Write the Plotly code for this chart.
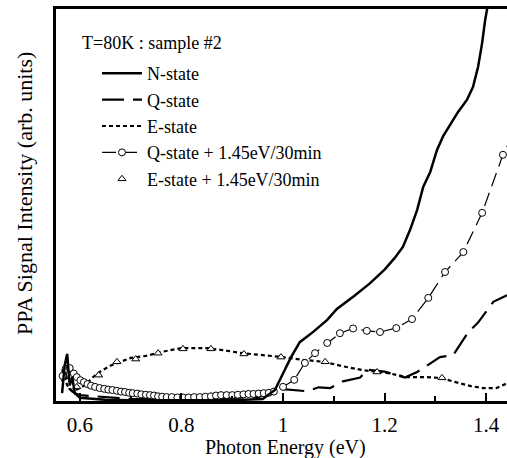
import plotly.graph_objects as go

# ---------------- data ----------------
n_x = [0.565, 0.57, 0.575, 0.58, 0.585, 0.59, 0.60, 0.65, 0.70, 0.80, 0.90, 0.96, 0.984, 1.0, 1.015, 1.033,
       1.06, 1.087, 1.106, 1.14, 1.171, 1.20, 1.22, 1.236, 1.25, 1.264, 1.276, 1.29, 1.303, 1.315, 1.33,
       1.345, 1.362, 1.374, 1.384, 1.392, 1.398, 1.402, 1.41]
n_y = [2, 9, 12, 4, 6, 2, 0.8, 0.3, 0.2, 0.2, 0.2, 0.5, 2.8, 7, 11, 15,
       17.7, 20.7, 23.5, 26.8, 30, 33.5, 36.5, 39.3, 43.6, 48.7, 54.6, 58.5, 64, 67.5, 70.5,
       73.8, 76.8, 80.1, 85.2, 91.3, 97.2, 99.7, 106]

q_x = [0.565, 0.57, 0.58, 0.59, 0.60, 0.65, 0.70, 0.75, 0.80, 0.85, 0.90, 0.95, 0.98, 1.0, 1.02, 1.047,
       1.07, 1.093, 1.118, 1.152, 1.166, 1.20, 1.24, 1.264, 1.309, 1.335, 1.365, 1.384, 1.414, 1.433, 1.441]
q_y = [5, 8, 3, 2, 1.5, 1, 0.5, 0.5, 0.8, 0.8, 0.8, 1, 2, 3, 2.8, 2.5,
       3.5, 3.3, 5, 6, 8, 7.5, 6, 7.4, 11.2, 11.7, 17.6, 20, 25.3, 26.5, 27]

e_x = [0.565, 0.575, 0.585, 0.595, 0.61, 0.625, 0.64, 0.66, 0.68, 0.70, 0.73, 0.76, 0.80, 0.85, 0.88,
       0.92, 0.96, 1.0, 1.04, 1.08, 1.12, 1.16, 1.20, 1.244, 1.28, 1.31, 1.34, 1.37, 1.394, 1.42, 1.441]
e_y = [8, 4, 2.5, 3, 4, 6, 7.5, 9, 10, 11, 11.5, 12.5, 13.5, 13.5, 13,
       12.2, 11.7, 11.2, 10.5, 10, 8.8, 7.8, 7.3, 6.1, 6.1, 5.9, 4.8, 3.8, 3.3, 3.3, 4.5]

qi_x = [0.566, 0.572, 0.580, 0.588, 0.594, 0.601, 0.608, 0.615, 0.622, 0.630, 0.639, 0.648, 0.656, 0.664,
        0.673, 0.681, 0.689, 0.697, 0.704, 0.713, 0.721, 0.730, 0.738, 0.746, 0.754, 0.762, 0.771, 0.781,
        0.792, 0.803, 0.814, 0.825, 0.836, 0.847, 0.858, 0.868, 0.878, 0.889, 0.900, 0.911, 0.922, 0.932,
        0.942, 0.952, 0.962, 0.972, 0.982, 1.000, 1.022, 1.043, 1.063, 1.087, 1.112, 1.138, 1.165, 1.191,
        1.223, 1.254, 1.286, 1.319, 1.355, 1.392, 1.433, 1.46]
qi_y = [6.4, 8.2, 8.4, 7.0, 6.1, 5.3, 4.8, 4.3, 3.9, 3.6, 3.3, 3.1, 2.9, 2.8,
        2.6, 2.4, 2.3, 2.1, 2.0, 1.9, 1.7, 1.6, 1.5, 1.4, 1.2, 1.1, 1.0, 1.0,
        0.9, 0.9, 0.9, 1.0, 1.0, 1.1, 1.2, 1.4, 1.5, 1.5, 1.5, 1.6, 1.7, 1.8,
        1.8, 1.9, 2.0, 2.1, 2.4, 3.6, 5.4, 9.7, 12.2, 14.8, 17.3, 18.5, 17.9, 17.6,
        18.6, 20.9, 26.3, 32.9, 38.0, 48.0, 62.8, 70]

ei_x = [0.594, 0.637, 0.673, 0.710, 0.754, 0.803, 0.858, 0.923, 0.996, 1.083, 1.185, 1.313]
ei_y = [3.6, 6.6, 10, 10.7, 12.2, 13.3, 13.3, 12, 11.2, 10, 7.4, 5.9]

tick_vals = [0.6, 0.8, 1.0, 1.2, 1.4]
tick_text = ["0.6", "0.8", "1", "1.2", "1.4"]
minor_vals = [0.7, 0.9, 1.1, 1.3]

names = ["N-state", "Q-state", "E-state",
         "Q-state + 1.45eV/30min", "E-state + 1.45eV/30min"]

# ---------------- figure ----------------
FONT = "Liberation Serif"
W, H = 507, 458
ML, MR, MT, MB = 56, 0, 9, 57
PW, PH = W - ML - MR, H - MT - MB


def px(x, y):
    """pixel position -> paper coordinates"""
    return (x - ML) / PW, (H - MB - y) / PH


fig = go.Figure()

fig.add_trace(go.Scatter(x=e_x, y=e_y, name=names[2], mode="lines", legendgroup="e", legendrank=3,
                         line=dict(color="black", width=2.2, dash="4px,3px")))
fig.add_trace(go.Scatter(x=q_x, y=q_y, name=names[1], mode="lines", legendgroup="q", legendrank=2,
                         line=dict(color="black", width=2.2, dash="22px,9px")))
fig.add_trace(go.Scatter(x=qi_x, y=qi_y, name=names[3], mode="lines+markers", legendgroup="qi", legendrank=4,
                         line=dict(color="black", width=1.2, dash="14px,7px"),
                         marker=dict(symbol="circle", size=7, color="white",
                                     line=dict(color="black", width=1))))
fig.add_trace(go.Scatter(x=ei_x, y=ei_y, name=names[4], mode="markers", legendgroup="ei", legendrank=5,
                         marker=dict(symbol="triangle-up", size=7, color="white",
                                     line=dict(color="black", width=1))))
fig.add_trace(go.Scatter(x=n_x, y=n_y, name=names[0], mode="lines", legendgroup="n", legendrank=1,
                         line=dict(color="black", width=2.5)))

lx, ly = px(97, 55)
tx, ty = px(80, 31)
xtx, xty = px(285, 458)
ytx, yty = px(24, 194)

fig.update_layout(
    width=W, height=H,
    margin=dict(l=ML, r=MR, t=MT, b=MB, autoexpand=False),
    paper_bgcolor="white", plot_bgcolor="white",
    font=dict(family=FONT, color="black", size=18),
    showlegend=True,
    legend=dict(x=lx, y=ly, xanchor="left", yanchor="top",
                bgcolor="rgba(0,0,0,0)", font=dict(size=18, family=FONT),
                tracegroupgap=0, itemwidth=40),
    annotations=[
        dict(text="T=80K : sample #2", x=tx, y=ty, xref="paper", yref="paper",
             xanchor="left", yanchor="top", showarrow=False, font=dict(size=18, family=FONT)),
        dict(text="Photon Energy (eV)", x=xtx, y=xty, xref="paper", yref="paper",
             xanchor="center", yanchor="bottom", yshift=-3, showarrow=False,
             font=dict(size=20, family=FONT)),
        dict(text="PPA Signal Intensity (arb. units)", x=ytx, y=yty, xref="paper", yref="paper",
             xanchor="center", yanchor="middle", textangle=-90, showarrow=False,
             font=dict(size=22, family=FONT)),
    ],
)

fig.update_xaxes(
    range=[0.553, 1.441], showgrid=False, zeroline=False, automargin=False,
    showline=True, linecolor="black", linewidth=2.5, mirror=True,
    ticks="inside", ticklen=8, tickwidth=2, tickcolor="black",
    tickvals=tick_vals, ticktext=tick_text, ticklabelstandoff=3,
    tickfont=dict(size=21, family=FONT),
    minor=dict(ticks="inside", ticklen=5, tickwidth=1.5, tickcolor="black", tickvals=minor_vals),
)
fig.update_yaxes(
    range=[0, 100], showgrid=False, zeroline=False, automargin=False,
    showline=True, linecolor="black", linewidth=2.5, mirror=False,
    showticklabels=False, ticks="",
)

# remove the browser's default 8px page margin so the figure fills the window
fig.write_html("out.html", config={"displayModeBar": False},
               post_script="document.body.style.margin='0px';")
